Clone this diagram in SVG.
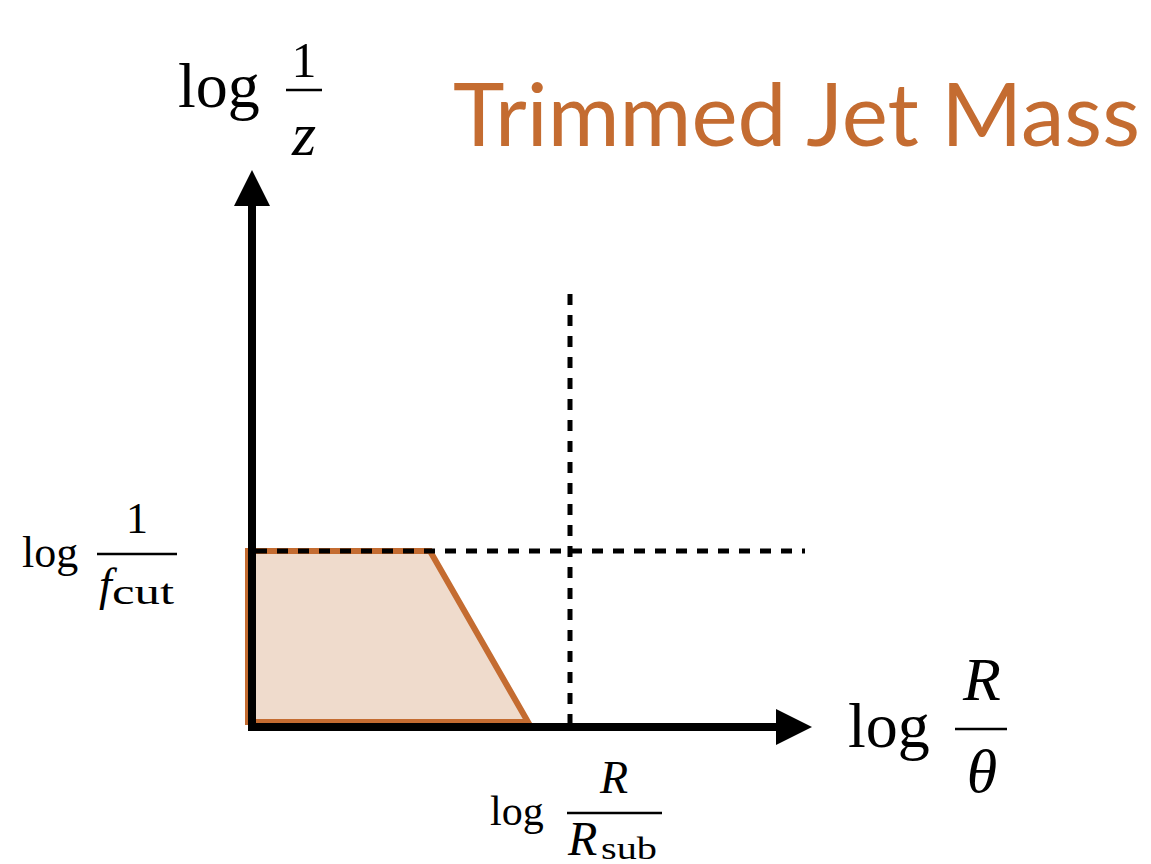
<svg xmlns="http://www.w3.org/2000/svg" width="1151" height="864" viewBox="0 0 1151 864">
<style>
.m{font-family:"Liberation Serif","Times New Roman",serif;fill:#000}
.i{font-style:italic}
.bar{stroke:#000;stroke-width:2.5}
.dash{stroke:#000;stroke-width:5;stroke-dasharray:11 10;fill:none}
.axis{stroke:#000;stroke-width:8;fill:none}
</style>
<rect width="1151" height="864" fill="#fff"/>
<g id="region">
<polygon points="248,551 430,551 528,722 248,722" fill="#EFDBCC" stroke="#C46C31" stroke-width="6" stroke-linejoin="miter"/>
</g>
<g id="connectors">
<line class="dash" x1="256" y1="551" x2="805" y2="551"/>
<line class="dash" x1="570" y1="294" x2="570" y2="727"/>
<line class="axis" x1="252" y1="731" x2="252" y2="200"/>
<polygon points="252,170 234,206 270,206" fill="#000"/>
<line class="axis" x1="248" y1="727" x2="782" y2="727"/>
<polygon points="812,727 776,709 776,745" fill="#000"/>
</g>
<g id="title">
<text x="453" y="146" font-family="Lato,'Open Sans',sans-serif" font-size="88" fill="#C46C31" textLength="687" lengthAdjust="spacingAndGlyphs">Trimmed Jet Mass</text>
</g>
<g id="label-y">
<text class="m" x="178" y="107" font-size="64">log</text>
<text class="m" x="304" y="77" font-size="50" text-anchor="middle">1</text>
<line class="bar" x1="286" y1="90" x2="322" y2="90"/>
<text class="m i" x="304" y="155" font-size="62" text-anchor="middle">z</text>
</g>
<g id="label-fcut">
<text class="m" x="22" y="567" font-size="44">log</text>
<text class="m" x="137" y="533" font-size="44" text-anchor="middle">1</text>
<line class="bar" x1="97" y1="554" x2="177" y2="554" stroke-width="2"/>
<text class="m i" x="99" y="600" font-size="46">f</text>
<text class="m" x="112" y="604" font-size="36" textLength="62" lengthAdjust="spacingAndGlyphs">cut</text>
</g>
<g id="label-rsub">
<text class="m" x="490" y="825" font-size="42">log</text>
<text class="m i" x="614" y="793" font-size="46" text-anchor="middle">R</text>
<line class="bar" x1="567" y1="813" x2="662" y2="813" stroke-width="2"/>
<text class="m i" x="568" y="855" font-size="48">R</text>
<text class="m" x="601" y="859" font-size="32" textLength="56" lengthAdjust="spacingAndGlyphs">sub</text>
</g>
<g id="label-x">
<text class="m" x="848" y="747" font-size="64">log</text>
<text class="m i" x="982" y="700" font-size="62" text-anchor="middle">R</text>
<line class="bar" x1="955" y1="729" x2="1007" y2="729" stroke-width="3"/>
<text class="m i" x="982" y="792" font-size="62" text-anchor="middle">θ</text>
</g>
</svg>
